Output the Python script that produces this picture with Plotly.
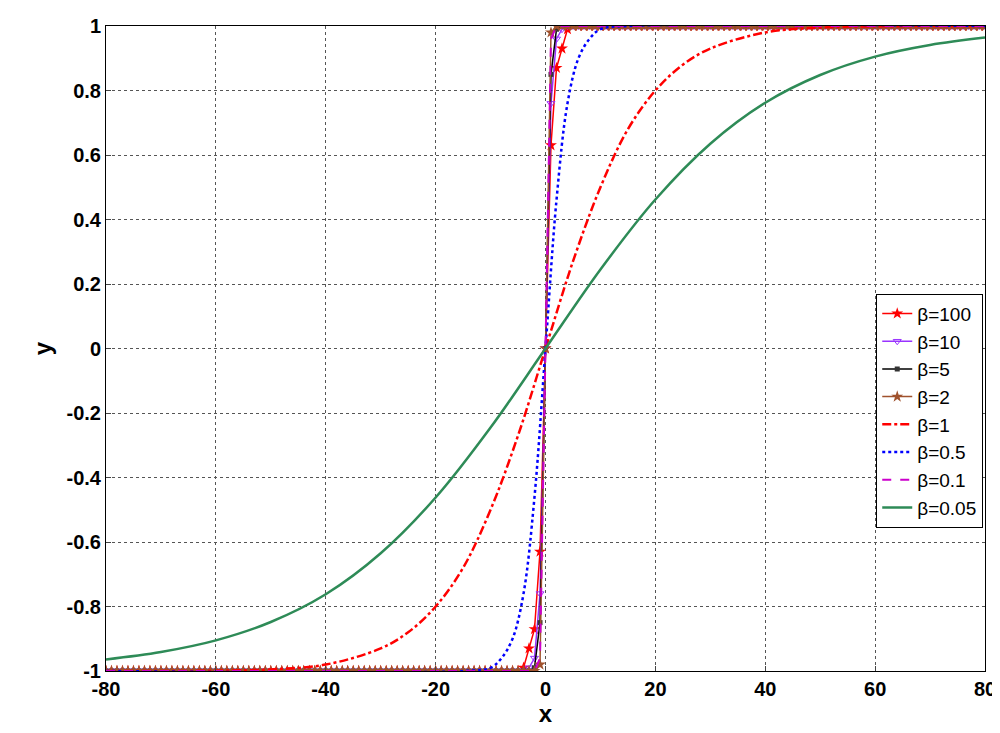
import plotly.graph_objects as go

# flat parts are read as exactly -1 / +1
x_grid = list(range(-80, 81))
pad = 76

# marker series: values near x = -4..4
core_x = [-4, -3, -2, -1, 0, 1, 2, 3, 4]
y_b100_core = [-0.99, -0.93, -0.87, -0.63, 0.0, 0.63, 0.87, 0.93, 0.99]
y_b10_core = [-1.0, -0.99, -0.96, -0.76, 0.0, 0.76, 0.96, 0.99, 1.0]
y_b5_core = [-1.0, -1.0, -0.99, -0.85, 0.0, 0.85, 0.99, 1.0, 1.0]
y_b2_core = [-1.0, -1.0, -1.0, -0.98, 0.0, 0.98, 1.0, 1.0, 1.0]

# line series
x_b1 = [-80, -60, -50, -40, -30, -25, -20, -15, -10, -5, 0, 5, 10, 15, 20, 25, 30, 40, 50, 60, 80]
y_b1 = [-1.0, -0.999, -0.995, -0.98, -0.93, -0.88, -0.8, -0.68, -0.5, -0.27, 0.0,
        0.27, 0.5, 0.68, 0.8, 0.88, 0.93, 0.98, 0.995, 0.999, 1.0]
x_b05 = [-80, -15, -10, -8, -6, -4, -2, 0, 2, 4, 6, 8, 10, 15, 80]
y_b05 = [-1.0, -1.0, -0.99, -0.96, -0.9, -0.76, -0.46, 0.0, 0.46, 0.76, 0.9, 0.96, 0.99, 1.0, 1.0]
x_b01 = [-80, -2, -1, 0, 1, 2, 80]
y_b01 = [-1.0, -1.0, -0.96, 0.0, 0.96, 1.0, 1.0]
x_b005 = [-80, -70, -60, -50, -40, -30, -20, -10, 0, 10, 20, 30, 40, 50, 60, 70, 80]
y_b005 = [-0.964, -0.941, -0.905, -0.848, -0.762, -0.635, -0.462, -0.245, 0.0,
          0.245, 0.462, 0.635, 0.762, 0.848, 0.905, 0.941, 0.964]

x_ticks = [-80, -60, -40, -20, 0, 20, 40, 60, 80]
y_ticks = [-1, -0.8, -0.6, -0.4, -0.2, 0, 0.2, 0.4, 0.6, 0.8, 1]


def full(core):
    return [-1.0] * pad + core + [1.0] * pad


def label(v):
    return "<b>%s</b>" % ("%g" % v)


fig = go.Figure()
fig.add_trace(go.Scatter(x=x_grid, y=full(y_b100_core), name="β=100", mode="lines+markers",
                         line=dict(color="#ff0000", width=1.5),
                         marker=dict(symbol="star", size=9, color="#ff0000")))
fig.add_trace(go.Scatter(x=x_grid, y=full(y_b10_core), name="β=10", mode="lines+markers",
                         line=dict(color="#9933ff", width=1.5),
                         marker=dict(symbol="triangle-down-open", size=7, color="#9933ff")))
fig.add_trace(go.Scatter(x=x_grid, y=full(y_b5_core), name="β=5", mode="lines+markers",
                         line=dict(color="#000000", width=1.5),
                         marker=dict(symbol="square", size=5, color="#333333")))
fig.add_trace(go.Scatter(x=x_grid, y=full(y_b2_core), name="β=2", mode="lines+markers",
                         line=dict(color="#a0522d", width=1.5),
                         marker=dict(symbol="star", size=9, color="#a0522d")))
fig.add_trace(go.Scatter(x=x_b1, y=y_b1, name="β=1", mode="lines", line_shape="spline",
                         line=dict(color="#ff0000", width=2.5, dash="dashdot")))
fig.add_trace(go.Scatter(x=x_b05, y=y_b05, name="β=0.5", mode="lines", line_shape="spline",
                         line=dict(color="#0000ff", width=2.5, dash="dot")))
fig.add_trace(go.Scatter(x=x_b01, y=y_b01, name="β=0.1", mode="lines",
                         line=dict(color="#cc00cc", width=2, dash="dash")))
fig.add_trace(go.Scatter(x=x_b005, y=y_b005, name="β=0.05", mode="lines", line_shape="spline",
                         line=dict(color="#2e8b57", width=2.5)))

axis = dict(showline=True, linecolor="black", linewidth=1, mirror=True, ticks="inside",
            showgrid=True, gridcolor="#555555", griddash="dot", gridwidth=1, zeroline=False,
            automargin=False, tickfont=dict(family="Arial", size=20, color="black"))
fig.update_layout(
    width=1000, height=733, plot_bgcolor="white", paper_bgcolor="white",
    margin=dict(l=98, r=23, t=18, b=70),
    xaxis=dict(axis, range=[-80, 80], tickvals=x_ticks, ticktext=[label(v) for v in x_ticks],
               title=dict(text="<b>x</b>", font=dict(family="Arial", size=24, color="black"),
                          standoff=2)),
    yaxis=dict(axis, range=[-1, 1], tickvals=y_ticks, ticktext=[label(v) for v in y_ticks],
               title=dict(text="<b>y</b>", font=dict(family="Arial", size=24, color="black"),
                          standoff=8)),
    legend=dict(x=0.998, y=0.585, xanchor="right", yanchor="top", bgcolor="white",
                bordercolor="black", borderwidth=1, tracegroupgap=0,
                font=dict(family="Arial", size=19, color="black")),
)
fig.write_html("out.html")
